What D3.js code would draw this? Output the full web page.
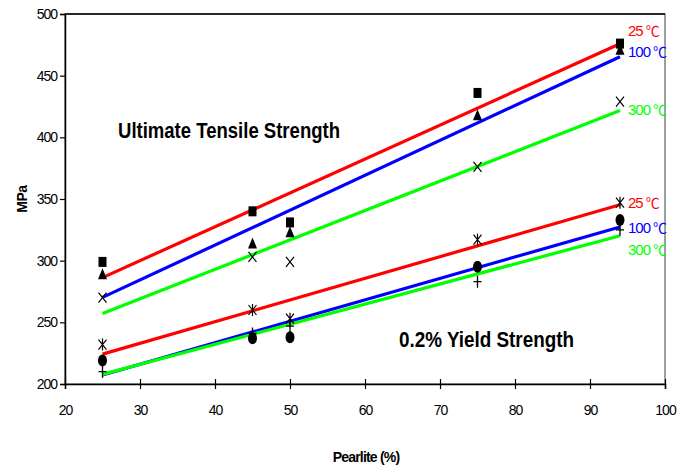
<!DOCTYPE html>
<html>
<head>
<meta charset="utf-8">
<script src="https://cdn.jsdelivr.net/npm/d3@7.9.0/dist/d3.min.js"></script>
<style>
  body { margin: 0; background: #fff; }
  svg { display: block; font-family: "Liberation Sans", Arial, "Noto Sans CJK SC", sans-serif; }
  .tick text { font-size: 14px; letter-spacing: -1px; fill: #000; }
</style>
</head>
<body>
<svg id="chart" width="691" height="469"></svg>
<script>
const pearlite = [25, 45, 50, 75, 94];
const temps = ["25", "100", "300"];
const colors = ["#ff0000", "#0000ff", "#00ff00"];

// Ultimate tensile strength (MPa) per temperature
const utsValues = [
  [299, 340, 331, 436, 476],
  [289, 314, 323, 418, 471],
  [270, 303, 299, 376, 429]
];
// 0.2% yield strength (MPa) per temperature
const ysValues = [
  [232, 260, 253, 317, 347],
  [219, 237, 238, 295, 333],
  [210, 241, 247, 283, 325]
];

const xTicks = [20, 30, 40, 50, 60, 70, 80, 90, 100];
const yTicks = [200, 250, 300, 350, 400, 450, 500];

const width = 691, height = 469;
const margin = { top: 14, right: 26, bottom: 85, left: 65 };

const svg = d3.select("#chart");

const x = d3.scaleLinear().domain([20, 100]).range([margin.left, width - margin.right]);
const y = d3.scaleLinear().domain([200, 500]).range([height - margin.bottom, margin.top]);

// plot frame
svg.append("rect")
  .attr("x", x(20)).attr("y", y(500))
  .attr("width", x(100) - x(20)).attr("height", y(200) - y(500))
  .attr("fill", "none").attr("stroke", "#808080").attr("stroke-width", 1.5);
svg.append("line")
  .attr("x1", x(20)).attr("x2", x(100)).attr("y1", y(500)).attr("y2", y(500))
  .attr("stroke", "#000").attr("stroke-width", 1.5);

// axes
const xAxis = svg.append("g")
  .attr("transform", `translate(0,${y(200)})`)
  .call(d3.axisBottom(x).tickValues(xTicks).tickSize(5).tickPadding(16));
xAxis.selectAll(".tick line").attr("y1", -5).attr("stroke-width", 1.2);
xAxis.select(".domain").attr("stroke-width", 1.5);

const yAxis = svg.append("g")
  .attr("transform", `translate(${x(20)},0)`)
  .call(d3.axisLeft(y).tickValues(yTicks).tickSize(5).tickPadding(3));
yAxis.selectAll(".tick line").attr("stroke-width", 1.2);
yAxis.select(".domain").attr("stroke-width", 1.5);
svg.selectAll(".domain").attr("stroke", "#000");

// least-squares trend line
function fit(xs, ys) {
  const mx = d3.mean(xs), my = d3.mean(ys);
  const sxy = d3.sum(xs, (v, i) => (v - mx) * (ys[i] - my));
  const sxx = d3.sum(xs, (v) => (v - mx) * (v - mx));
  const b = sxy / sxx;
  return (t) => my + b * (t - mx);
}

const xExt = d3.extent(pearlite);
const line = d3.line().x((d) => x(d[0])).y((d) => y(d[1]));

function drawTrends(values, labelDy) {
  values.forEach((vals, i) => {
    const f = fit(pearlite, vals);
    svg.append("path")
      .attr("d", line(xExt.map((t) => [t, f(t)])))
      .attr("stroke", colors[i]).attr("stroke-width", 3.2).attr("fill", "none");
    const t = svg.append("text")
      .attr("x", x(xExt[1]) + 8)
      .attr("y", y(f(xExt[1])) + labelDy[i])
      .attr("dy", "0.35em")
      .attr("fill", colors[i])
      .attr("font-size", 15)
      .attr("letter-spacing", -1);
    t.append("tspan").text(temps[i]);
    t.append("tspan")
      .attr("dx", 3)
      .attr("font-family", "'Noto Sans CJK SC'")
      .attr("font-size", 14)
      .attr("letter-spacing", 0)
      .text("℃");
  });
}

drawTrends(utsValues, [-13, -5, -1]);
drawTrends(ysValues, [-2, 1, 14]);

// markers
const ink = "#000";
const markerDraw = [
  (g) => g.append("rect").attr("x", -4).attr("y", -5).attr("width", 8).attr("height", 10).attr("fill", ink),
  (g) => g.append("path").attr("d", "M0,-6L4.5,5L-4.5,5Z").attr("fill", ink),
  (g) => g.append("path").attr("d", "M-4,-5L4,5M-4,5L4,-5").attr("stroke", ink).attr("stroke-width", 1.2).attr("fill", "none"),
  (g) => g.append("path").attr("d", "M-4,-5L4,5M-4,5L4,-5M0,-6L0,6").attr("stroke", ink).attr("stroke-width", 1.2).attr("fill", "none"),
  (g) => g.append("ellipse").attr("rx", 4.5).attr("ry", 6).attr("fill", ink),
  (g) => g.append("path").attr("d", "M-4,0L4,0M0,-6L0,6").attr("stroke", ink).attr("stroke-width", 1.3).attr("fill", "none")
];

[...utsValues, ...ysValues].forEach((vals, s) => {
  vals.forEach((v, i) => {
    const g = svg.append("g").attr("transform", `translate(${x(pearlite[i])},${y(v)})`);
    markerDraw[s](g);
  });
});

// annotations
svg.append("text")
  .attr("x", 118).attr("y", 138)
  .attr("font-size", 22).attr("font-weight", "bold")
  .attr("textLength", 222).attr("lengthAdjust", "spacingAndGlyphs")
  .text("Ultimate Tensile Strength");
svg.append("text")
  .attr("x", 399).attr("y", 347)
  .attr("font-size", 22).attr("font-weight", "bold")
  .attr("textLength", 175).attr("lengthAdjust", "spacingAndGlyphs")
  .text("0.2% Yield Strength");

svg.append("text")
  .attr("transform", `translate(27,${(y(200) + y(500)) / 2}) rotate(-90)`)
  .attr("text-anchor", "middle")
  .attr("font-size", 14).attr("font-weight", "bold")
  .attr("letter-spacing", -0.5)
  .text("MPa");
svg.append("text")
  .attr("x", 366).attr("y", 462)
  .attr("text-anchor", "middle")
  .attr("font-size", 14).attr("font-weight", "bold")
  .attr("letter-spacing", -0.8)
  .text("Pearlite (%)");
</script>
</body>
</html>
